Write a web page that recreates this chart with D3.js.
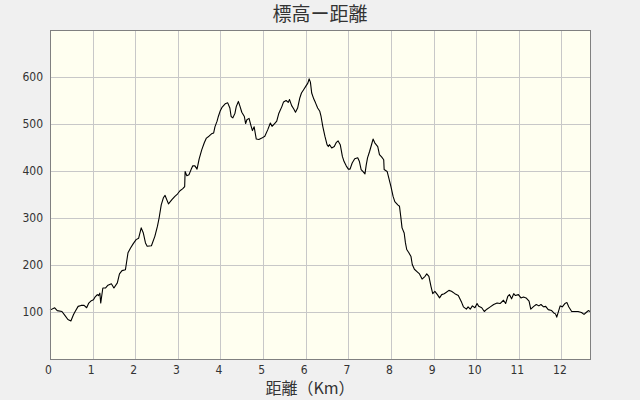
<!DOCTYPE html>
<html><head><meta charset="utf-8">
<script src="https://cdn.jsdelivr.net/npm/d3@7"></script>
<style>
body{margin:0;background:#f0f0f0;}
svg{display:block;font-family:"Noto Sans CJK JP","DejaVu Sans",sans-serif;}
</style></head>
<body><svg id="c" width="640" height="400"></svg>
<script>
const title = "標高ー距離";
const xLabel = "距離（Km）";
const xTicks = [0,1,2,3,4,5,6,7,8,9,10,11,12];
const yTicks = [100,200,300,400,500,600];
const distKm = [0,0.11,0.17,0.28,0.34,0.42,0.49,0.55,0.59,0.66,0.73,0.80,0.86,0.91,0.97,1.02,1.05,1.11,1.14,1.17,1.19,1.24,1.30,1.36,1.44,1.50,1.58,1.63,1.69,1.77,1.80,1.83,1.89,1.95,2.02,2.08,2.14,2.19,2.24,2.28,2.38,2.46,2.52,2.56,2.61,2.66,2.70,2.78,2.86,2.93,2.99,3.05,3.11,3.16,3.17,3.21,3.26,3.31,3.35,3.40,3.45,3.50,3.56,3.62,3.67,3.73,3.79,3.84,3.87,3.92,3.95,3.99,4.04,4.11,4.17,4.22,4.25,4.29,4.34,4.37,4.42,4.46,4.50,4.56,4.59,4.62,4.67,4.72,4.75,4.79,4.84,4.90,4.97,5.04,5.11,5.17,5.21,5.28,5.32,5.37,5.44,5.48,5.54,5.59,5.62,5.67,5.72,5.76,5.81,5.86,5.90,5.95,6.00,6.05,6.08,6.11,6.14,6.19,6.23,6.28,6.33,6.36,6.40,6.45,6.50,6.53,6.56,6.61,6.67,6.72,6.76,6.81,6.86,6.90,6.95,7.00,7.04,7.09,7.15,7.22,7.26,7.30,7.34,7.39,7.42,7.45,7.50,7.55,7.58,7.62,7.69,7.73,7.78,7.83,7.84,7.91,7.95,8.00,8.05,8.09,8.16,8.20,8.23,8.26,8.31,8.34,8.37,8.42,8.47,8.50,8.55,8.61,8.67,8.73,8.80,8.84,8.89,8.94,8.98,9.03,9.09,9.14,9.19,9.25,9.30,9.36,9.42,9.50,9.58,9.66,9.70,9.77,9.81,9.86,9.91,9.97,10.02,10.06,10.13,10.19,10.25,10.33,10.41,10.49,10.56,10.64,10.69,10.74,10.78,10.83,10.88,10.92,10.99,11.05,11.11,11.17,11.24,11.28,11.35,11.41,11.47,11.52,11.58,11.63,11.69,11.77,11.82,11.86,11.89,11.92,11.97,12.02,12.08,12.13,12.17,12.24,12.32,12.39,12.47,12.53,12.58,12.63,12.67];
const elevM = [104,109,103,101,94,84,81,94,101,112,114,114,109,119,124,126,131,137,135,140,119,151,151,157,160,151,162,181,188,190,208,226,236,245,254,257,279,268,247,240,241,261,282,300,328,343,348,330,339,346,351,358,362,367,399,390,392,403,411,411,404,426,445,460,470,474,479,481,494,506,516,527,536,543,545,534,516,513,523,537,548,537,525,516,501,509,512,495,486,494,468,467,470,474,488,502,495,502,506,523,537,547,550,546,552,539,532,525,534,555,566,573,580,587,596,589,566,553,545,534,527,516,495,474,456,452,456,449,452,461,464,456,431,420,411,404,404,417,426,428,420,403,399,394,413,428,442,458,468,460,452,435,430,424,403,399,385,367,346,335,328,325,303,279,268,247,233,226,218,201,191,186,181,170,176,181,176,154,139,144,137,130,137,139,142,146,144,139,135,120,111,106,111,106,113,109,118,112,109,101,106,111,116,119,118,125,118,133,137,128,139,135,137,130,132,130,123,106,112,116,113,116,111,112,105,103,98,96,89,98,113,111,118,120,111,101,101,101,99,95,99,103,101];
const xMax = 12.67, yMax = 700;

const svg = d3.select("#c");
const L = 50, R = 590, T = 30, B = 359;
const x = d3.scaleLinear().domain([0, xMax]).range([L, R]);
const y = d3.scaleLinear().domain([0, yMax]).range([B, T]);

svg.append("rect").attr("x",L).attr("y",T).attr("width",R-L).attr("height",B-T).attr("fill","#fffff0");

const g = svg.append("g").attr("shape-rendering","crispEdges");
g.selectAll("line.gx").data(xTicks.slice(1)).join("line")
  .attr("x1",d=>Math.round(x(d))+0.5).attr("x2",d=>Math.round(x(d))+0.5)
  .attr("y1",T).attr("y2",B).attr("stroke","#c8c8c8");
g.selectAll("line.gy").data(yTicks).join("line")
  .attr("y1",d=>Math.round(y(d))+0.5).attr("y2",d=>Math.round(y(d))+0.5)
  .attr("x1",L).attr("x2",R).attr("stroke","#c8c8c8");

const line = d3.line().x((d,i)=>x(distKm[i])).y(d=>y(d));
svg.append("path").datum(elevM).attr("d",line).attr("fill","none").attr("stroke","#000").attr("stroke-width",1.1).attr("stroke-linejoin","round");

svg.append("rect").attr("x",L+0.5).attr("y",T+0.5).attr("width",R-L).attr("height",B-T)
  .attr("fill","none").attr("stroke","#808080").attr("shape-rendering","crispEdges");

const ax = svg.append("g").attr("transform",`translate(0,${B})`)
  .call(d3.axisBottom(x).tickValues(xTicks).tickSize(0).tickPadding(6).tickFormat(d3.format("d")));
ax.select(".domain").remove();
ax.selectAll("text").attr("fill","#333").attr("font-size",12).attr("dx",-2).attr("font-family","'DejaVu Sans Condensed','Noto Sans',sans-serif");

const ay = svg.append("g").attr("transform",`translate(${L},0)`)
  .call(d3.axisLeft(y).tickValues(yTicks).tickSize(0).tickPadding(7));
ay.select(".domain").remove();
ay.selectAll("text").attr("fill","#333").attr("font-size",12).attr("font-family","'DejaVu Sans Condensed','Noto Sans',sans-serif");

svg.append("text").attr("x",320).attr("y",21).attr("text-anchor","middle").attr("font-size",19).attr("fill","#333").text(title);
svg.append("text").attr("x",310).attr("y",394).attr("text-anchor","middle").attr("font-size",16).attr("fill","#333").text(xLabel);
</script></body></html>
